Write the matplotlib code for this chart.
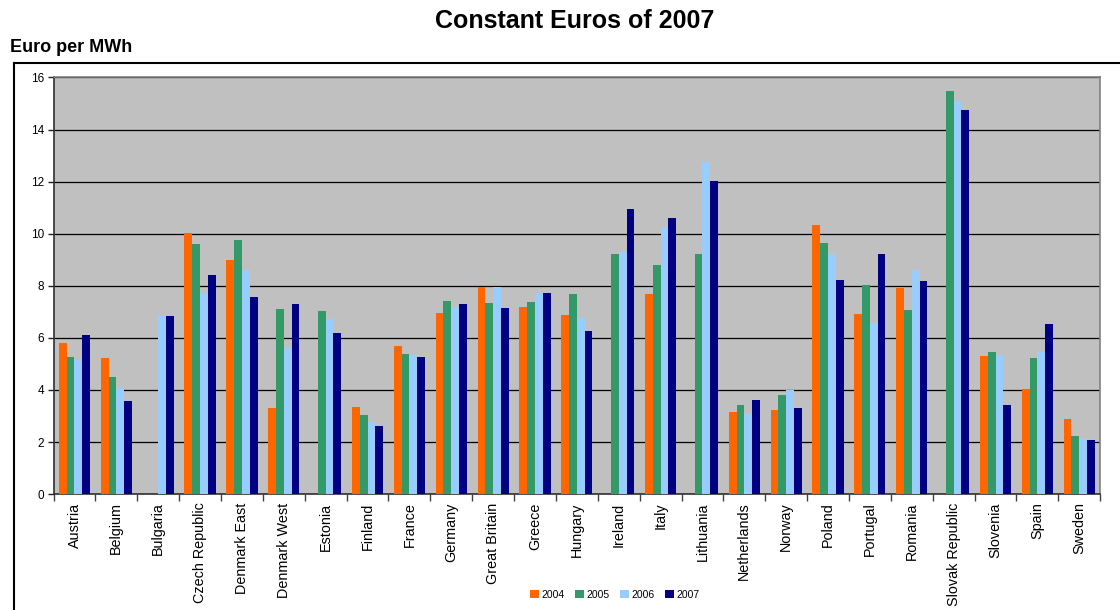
import numpy as np
import matplotlib.pyplot as plt
from matplotlib.lines import Line2D

plt.rcParams['font.family'] = ['Liberation Sans', 'DejaVu Sans']

countries = ['Austria', 'Belgium', 'Bulgaria', 'Czech Republic', 'Denmark East',
             'Denmark West', 'Estonia', 'Finland', 'France', 'Germany',
             'Great Britain', 'Greece', 'Hungary', 'Ireland', 'Italy', 'Lithuania',
             'Netherlands', 'Norway', 'Poland', 'Portugal', 'Romania',
             'Slovak Republic', 'Slovenia', 'Spain', 'Sweden']

# nan = no value reported for that year
nan = np.nan
y2004 = [5.82, 5.21, nan, 10.02, 8.98, 3.29, nan, 3.33, 5.68, 6.94,
         7.94, 7.17, 6.87, nan, 7.67, nan, 3.14, 3.22, 10.33, 6.90,
         7.90, nan, 5.29, 4.02, 2.87]
y2005 = [5.25, 4.48, nan, 9.60, 9.75, 7.10, 7.02, 3.02, 5.37, 7.40,
         7.33, 7.37, 7.67, 9.21, 8.79, 9.21, 3.41, 3.79, 9.63, 8.02,
         7.06, 15.48, 5.44, 5.21, 2.25]
y2006 = [5.16, 4.06, 6.83, 7.71, 8.60, 5.61, 6.71, 2.75, 5.33, 7.17,
         7.94, 7.71, 6.76, 9.31, 10.25, 12.76, 3.06, 3.98, 9.21, 6.56,
         8.60, 15.09, 5.33, 5.44, 2.10]
y2007 = [6.10, 3.56, 6.83, 8.40, 7.56, 7.29, 6.17, 2.60, 5.25, 7.29,
         7.14, 7.71, 6.25, 10.94, 10.59, 12.02, 3.60, 3.29, 8.21, 9.21,
         8.17, 14.75, 3.41, 6.52, 2.06]

years = ['2004', '2005', '2006', '2007']
series = [y2004, y2005, y2006, y2007]
colors = ['#FF6600', '#339966', '#99CCFF', '#000080']

fig = plt.figure(figsize=(11.2, 6.1), dpi=100)
ax = fig.add_axes([0.0478, 0.190, 0.9345, 0.683])
ax.set_facecolor('#C0C0C0')

x = np.arange(len(countries))
w = 0.186
for i, (vals, c, yr) in enumerate(zip(series, colors, years)):
    ax.bar(x + (i - 1.5) * w, vals, width=w, color=c, label=yr, linewidth=0, zorder=3)

ax.set_xlim(-0.5, len(countries) - 0.5)
ax.set_ylim(0, 16)
ax.set_yticks(np.arange(0, 17, 2))
ax.yaxis.grid(True, color='black', linewidth=0.9, zorder=1)
ax.set_axisbelow(True)

# category labels between boundary ticks
ax.set_xticks(np.arange(-0.5, len(countries), 1.0))
ax.set_xticklabels([])
ax.set_xticks(x, minor=True)
ax.set_xticklabels(countries, minor=True, rotation=90, fontsize=10.4, va='top')
ax.tick_params(axis='x', which='minor', length=0, pad=6)
ax.tick_params(axis='x', which='major', length=5, width=1, color='#404040', direction='out')
ax.tick_params(axis='y', length=4, width=1, labelsize=8.5, pad=3, color='#202020')

for s in ['top', 'right']:
    ax.spines[s].set_color('#808080')
    ax.spines[s].set_linewidth(1.2)
for s in ['left', 'bottom']:
    ax.spines[s].set_color('#303030')
    ax.spines[s].set_linewidth(1.2)

fig.text(575 / 1120, 1 - 21 / 610, 'Constant Euros of 2007', ha='center', va='center',
         fontsize=18, fontweight='bold')
fig.text(10 / 1120, 1 - 47 / 610, 'Euro per MWh', ha='left', va='center',
         fontsize=13, fontweight='bold')

# outer chart frame
fig.add_artist(Line2D([14 / 1120, 1.0], [1 - 63 / 610, 1 - 63 / 610],
                      transform=fig.transFigure, color='black', linewidth=1.5))
fig.add_artist(Line2D([14 / 1120, 14 / 1120], [0.0, 1 - 63 / 610],
                      transform=fig.transFigure, color='black', linewidth=1.5))

fig.legend(loc='center', bbox_to_anchor=(615 / 1120, 1 - 595 / 610), ncol=4,
           frameon=False, fontsize=7.5, handlelength=0.8, handleheight=0.8,
           handletextpad=0.3, columnspacing=1.0)

fig.savefig('out.png', dpi=100)
